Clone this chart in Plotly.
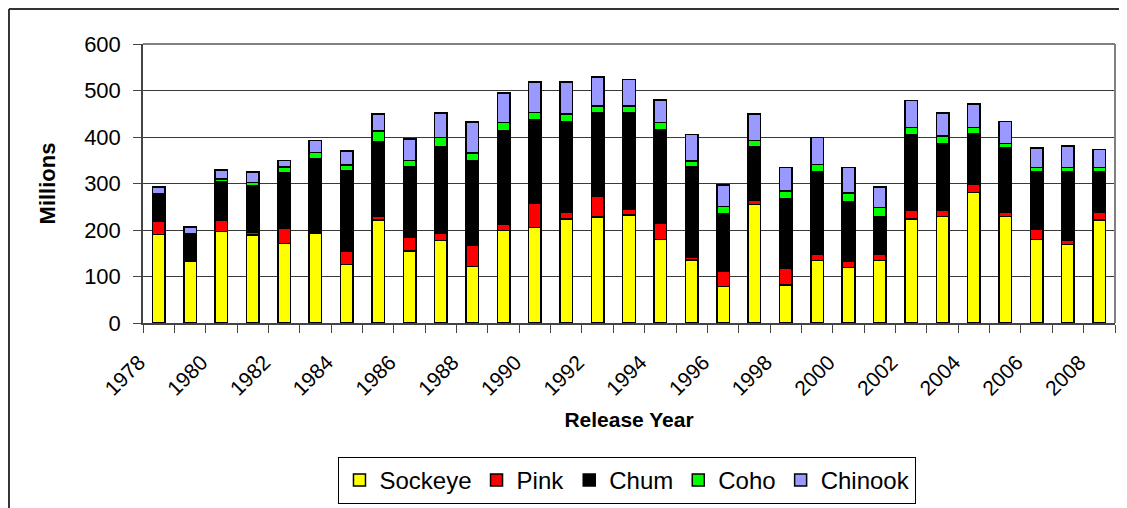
import plotly.graph_objects as go

# release years and hatchery releases (millions) by species
years = list(range(1978, 2009))

sockeye = [190, 132, 197, 189, 171, 192, 126, 222, 155, 177,
           122, 199, 205, 224, 228, 232, 180, 135, 79, 255,
           82, 134, 119, 134, 224, 229, 281, 229, 180, 169, 221]
pink = [28, 0, 25, 6, 33, 1, 28, 8, 30, 15,
        45, 13, 52, 14, 44, 13, 35, 6, 32, 8,
        35, 14, 13, 14, 18, 13, 17, 10, 21, 8, 17]
chum = [60, 59, 82, 101, 119, 160, 173, 160, 150, 187,
        183, 202, 180, 195, 180, 207, 200, 195, 124, 115,
        151, 177, 129, 80, 163, 144, 110, 137, 124, 148, 87]
coho = [1, 1, 6, 6, 13, 14, 13, 23, 15, 20,
        16, 17, 16, 16, 15, 15, 16, 12, 16, 15,
        16, 16, 19, 20, 15, 16, 12, 10, 9, 9, 9]
chinook = [14, 15, 19, 23, 14, 26, 30, 36, 46, 53,
           66, 64, 65, 69, 62, 57, 49, 57, 46, 57,
           50, 58, 54, 45, 58, 50, 51, 47, 42, 47, 39]

series = [
    ("Sockeye", sockeye, "#FFFF00"),
    ("Pink", pink, "#FF0000"),
    ("Chum", chum, "#000000"),
    ("Coho", coho, "#00FF00"),
    ("Chinook", chinook, "#9999FF"),
]

FONT = "Liberation Sans, Arial, sans-serif"

fig = go.Figure()
for name, vals, col in series:
    fig.add_trace(go.Bar(
        x=years, y=vals, name=name,
        marker=dict(color=col, line=dict(color="#000000", width=1.5)),
    ))

# ticks sit on the category boundaries, labels on every other year
tick_pos = [y - 0.5 for y in years] + [years[-1] + 0.5]
tick_txt = [str(y) if y % 2 == 0 else "" for y in years] + [""]

# page body adds an 8px margin, so the figure is 8px smaller each way
fig.update_layout(
    barmode="stack",
    bargap=0.6,
    width=1119, height=500,
    margin=dict(l=135, r=12, t=36, b=185),
    paper_bgcolor="white",
    plot_bgcolor="white",
    font=dict(family=FONT, size=22, color="#000000"),
    showlegend=True,
    legend=dict(
        orientation="h",
        xref="container", yref="container",
        x=0.5536, xanchor="center",
        y=0.102, yanchor="top",
        bordercolor="#000000", borderwidth=1,
        font=dict(family=FONT, size=24),
        traceorder="normal",
    ),
    xaxis=dict(
        range=[years[0] - 0.5, years[-1] + 0.5],
        tickmode="array",
        tickvals=tick_pos,
        ticktext=tick_txt,
        tickangle=-45,
        ticks="outside", ticklen=8, tickcolor="#444444",
        ticklabelshift=-4,
        ticklabelstandoff=9,
        showgrid=False,
        showline=True, linecolor="#444444", linewidth=1.5,
        zeroline=False,
        automargin=False,
        tickfont=dict(size=21),
        title=dict(text="<b>Release Year</b>", font=dict(size=21), standoff=14),
    ),
    yaxis=dict(
        range=[0, 600],
        tickvals=[0, 100, 200, 300, 400, 500, 600],
        ticks="outside", ticklen=8, tickcolor="#444444",
        showgrid=True, gridcolor="#3a3a3a", gridwidth=1,
        showline=True, linecolor="#444444", linewidth=1.5,
        zeroline=False,
        automargin=False,
        tickfont=dict(size=22),
        ticklabelstandoff=8,
        title=dict(text="<b>Millions</b>", font=dict(size=22), standoff=22),
    ),
    shapes=[
        # plot-area border (top and right)
        dict(type="line", xref="paper", yref="paper", x0=0, x1=1, y0=1, y1=1,
             line=dict(color="#808080", width=2)),
        dict(type="line", xref="paper", yref="paper", x0=1, x1=1, y0=0, y1=1,
             line=dict(color="#808080", width=2)),
        # chart-area frame
        dict(type="line", xref="paper", yref="paper", x0=-0.1379, x1=1.05, y0=1.1254, y1=1.1254,
             line=dict(color="#333333", width=2)),
        dict(type="line", xref="paper", yref="paper", x0=-0.1379, x1=-0.1379, y0=1.1254, y1=-0.75,
             line=dict(color="#333333", width=2)),
    ],
)

fig.write_html("out.html")
